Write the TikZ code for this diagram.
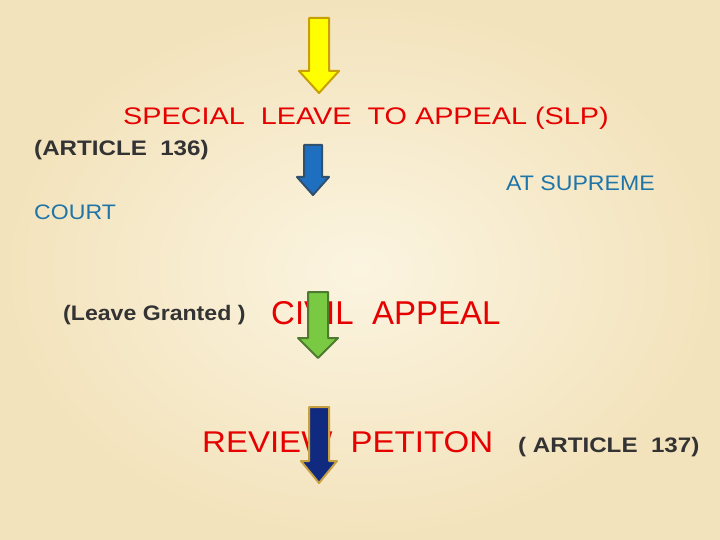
\documentclass[tikz,border=0pt]{standalone}
\usepackage{fontspec}
\setmainfont{Liberation Sans}
\definecolor{bg}{HTML}{FBF4E0}
\definecolor{bg2}{HTML}{F3E3BC}
\definecolor{redt}{HTML}{E60000}
\definecolor{darkt}{HTML}{333333}
\definecolor{bluet}{HTML}{1F74A8}
\definecolor{yel}{HTML}{FFFF00}
\definecolor{yelb}{HTML}{C8A000}
\definecolor{blu}{HTML}{1F6FC0}
\definecolor{blub}{HTML}{30506F}
\definecolor{grn}{HTML}{7AC943}
\definecolor{grnb}{HTML}{4E7A30}
\definecolor{nav}{HTML}{102A80}
\definecolor{navb}{HTML}{C8A040}
\newcommand{\downarrowshape}[8]{%
\draw[#8] (#2-#5,#3) -- (#2+#5,#3) -- (#2+#5,#4-#7) -- (#2+#6,#4-#7) -- (#2,#4) -- (#2-#6,#4-#7) -- (#2-#5,#4-#7) -- cycle;
\coordinate (#1) at (#2,#4);}
\begin{document}
\begin{tikzpicture}[x=1pt,y=-1pt,
  t/.style={anchor=west,inner sep=0pt},
  arr/.style={line width=2pt,line join=round}]
\shade[inner color=bg,outer color=bg2] (0,0) rectangle (720,540);
\useasboundingbox (0,0) rectangle (720,540);
\downarrowshape{a1}{319}{18}{93}{10}{20}{22}{arr,fill=yel,draw=yelb}
\downarrowshape{a2}{313}{145}{195}{9}{16}{18}{arr,fill=blu,draw=blub}
\node[t,text=redt,font=\fontsize{24}{28}\selectfont,xscale=1.2] (slp) at (123,118) {SPECIAL\ \ LEAVE\ \ TO APPEAL (SLP)};
\node[t,text=darkt,font=\fontsize{21}{24}\selectfont\bfseries,xscale=1.15] (a136) at (34,150) {(ARTICLE\ \ 136)};
\node[t,text=bluet,font=\fontsize{21}{24}\selectfont,xscale=1.1] (sc1) at (506,183) {AT SUPREME};
\node[t,text=bluet,font=\fontsize{21}{24}\selectfont,xscale=1.1] (sc2) at (34,212) {COURT};
\node[t,text=darkt,font=\fontsize{21}{24}\selectfont\bfseries,xscale=1.1] (lg) at (63,315) {(Leave Granted )};
\node[t,text=redt,font=\fontsize{33}{36}\selectfont] (ca) at (271,313) {CIVIL\ \ APPEAL};
\node[t,text=redt,font=\fontsize{30}{34}\selectfont,xscale=1.1] (rp) at (202,442) {REVIEW\ \ PETITON};
\node[t,text=darkt,font=\fontsize{21}{24}\selectfont\bfseries,xscale=1.15] (a137) at (518,447) {( ARTICLE\ \ 137)};
\downarrowshape{a3}{318}{292}{358}{10}{20}{20}{arr,fill=grn,draw=grnb}
\downarrowshape{a4}{319}{407}{483}{10}{18}{22}{arr,fill=nav,draw=navb}
\end{tikzpicture}
\end{document}
